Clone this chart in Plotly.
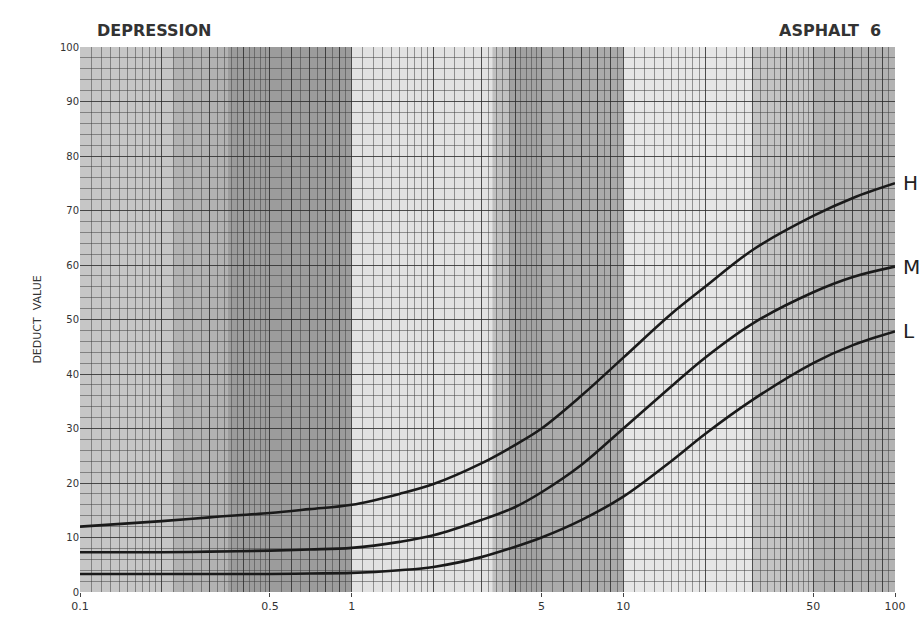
import numpy as np
import plotly.graph_objects as go

# ---- data ----
x_vals = [0.1, 0.2, 0.3, 0.5, 0.7, 1, 1.5, 2, 3, 4, 5, 7, 10, 15, 20, 30, 50, 70, 100]
H_vals = [12, 13, 13.7, 14.5, 15.2, 16, 18, 19.8, 23.6, 27, 30, 36, 43, 51, 56, 62.8, 69, 72.3, 75]
M_vals = [7.3, 7.3, 7.4, 7.6, 7.8, 8.1, 9.2, 10.4, 13.2, 15.6, 18.3, 23.3, 30, 37.7, 43, 49.3, 55, 57.8, 59.7]
L_vals = [3.3, 3.3, 3.3, 3.3, 3.4, 3.5, 4, 4.6, 6.4, 8.3, 10, 13.2, 17.5, 24, 29, 35.3, 42, 45.3, 47.8]
series = [("H", H_vals), ("M", M_vals), ("L", L_vals)]

x_tick_vals = [0.1, 0.5, 1, 5, 10, 50, 100]
x_tick_text = ["0.1", "0.5", "1", "5", "10", "50", "100"]
y_tick_vals = list(range(0, 101, 10))

# shaded vertical bands (x0, x1, gray colour)
bands = [
    (0.1, 0.22, "#c6c6c6"),
    (0.22, 0.35, "#b2b2b2"),
    (0.35, 1.0, "#9c9c9c"),
    (1.0, 3.3, "#e2e2e2"),
    (3.3, 3.8, "#c0c0c0"),
    (3.8, 5.0, "#a2a2a2"),
    (5.0, 10.0, "#ababab"),
    (10.0, 30.0, "#e6e6e6"),
    (30.0, 50.0, "#c4c4c4"),
    (50.0, 100.0, "#b2b2b2"),
]

# grid positions
fine_x = []
for dec in [0.1, 1, 10]:
    steps = list(np.arange(1.0, 2.0, 0.1)) + list(np.arange(2.0, 5.0, 0.2)) + list(np.arange(5.0, 10.0, 0.5))
    fine_x += [round(dec * s, 6) for s in steps]
fine_x.append(100)
major_x = [round(dec * m, 6) for dec in [0.1, 1, 10] for m in range(1, 10)] + [100]
fine_y = list(range(0, 101, 2))
major_y = list(range(0, 101, 10))

fig = go.Figure()

for name, vals in series:
    fig.add_trace(go.Scatter(
        x=x_vals, y=vals, mode="lines", name=name,
        line=dict(color="#1a1a1a", width=2.6, shape="spline", smoothing=1.0),
        showlegend=False, hoverinfo="x+y",
    ))

# helper invisible trace for overlay axes
fig.add_trace(go.Scatter(x=[0.1, 100], y=[0, 100], xaxis="x2", yaxis="y2",
                         mode="markers", marker=dict(opacity=0), showlegend=False, hoverinfo="skip"))

for x0, x1, c in bands:
    fig.add_shape(type="rect", xref="x", yref="y", x0=x0, x1=x1, y0=0, y1=100,
                  fillcolor=c, line=dict(width=0), layer="below")

for name, vals in series:
    fig.add_annotation(x=np.log10(x_vals[-1]), y=vals[-1], xref="x", yref="y",
                       text=name, showarrow=False, xanchor="left", xshift=6,
                       font=dict(family="DejaVu Sans", size=20, color="#222"))

fig.add_annotation(x=0.018, y=1.0, xref="paper", yref="paper", yanchor="bottom", yshift=5,
                   xanchor="left", text="<b>DEPRESSION</b>", showarrow=False,
                   font=dict(family="DejaVu Sans", size=16, color="#333"))
fig.add_annotation(x=0.985, y=1.0, xref="paper", yref="paper", yanchor="bottom", yshift=5,
                   xanchor="right", text="<b>ASPHALT  6</b>", showarrow=False,
                   font=dict(family="DejaVu Sans", size=16, color="#333"))

fig.update_layout(
    width=924, height=631,
    margin=dict(l=80, r=29, t=47, b=39),
    paper_bgcolor="white", plot_bgcolor="#dcdcdc",
    font=dict(family="DejaVu Sans", color="#333"),
    xaxis=dict(
        type="log", range=[-1, 2], tickvals=x_tick_vals, ticktext=x_tick_text,
        showgrid=False, zeroline=False, ticks="outside", ticklen=4, tickcolor="#444",
        tickfont=dict(size=11, color="#333"),
        minor=dict(tickvals=fine_x, showgrid=True, gridcolor="rgba(60,60,60,0.5)", gridwidth=1, ticks=""),
        showline=False,
    ),
    yaxis=dict(
        range=[0, 100], tickvals=y_tick_vals, showgrid=False, zeroline=False,
        tickfont=dict(size=10, color="#333"), ticks="",
        minor=dict(tickvals=fine_y, showgrid=True, gridcolor="rgba(60,60,60,0.5)", gridwidth=1, ticks=""),
        title=dict(text="DEDUCT  VALUE", font=dict(size=11, color="#333"), standoff=16),
    ),
    xaxis2=dict(type="log", range=[-1, 2], overlaying="x", side="bottom", tickvals=major_x,
                showticklabels=False, showgrid=True, gridcolor="rgba(40,40,40,0.65)", gridwidth=1,
                zeroline=False, ticks=""),
    yaxis2=dict(range=[0, 100], overlaying="y", side="left", tickvals=major_y,
                showticklabels=False, showgrid=True, gridcolor="rgba(40,40,40,0.65)", gridwidth=1,
                zeroline=False, ticks=""),
)

fig.write_html("out.html")
